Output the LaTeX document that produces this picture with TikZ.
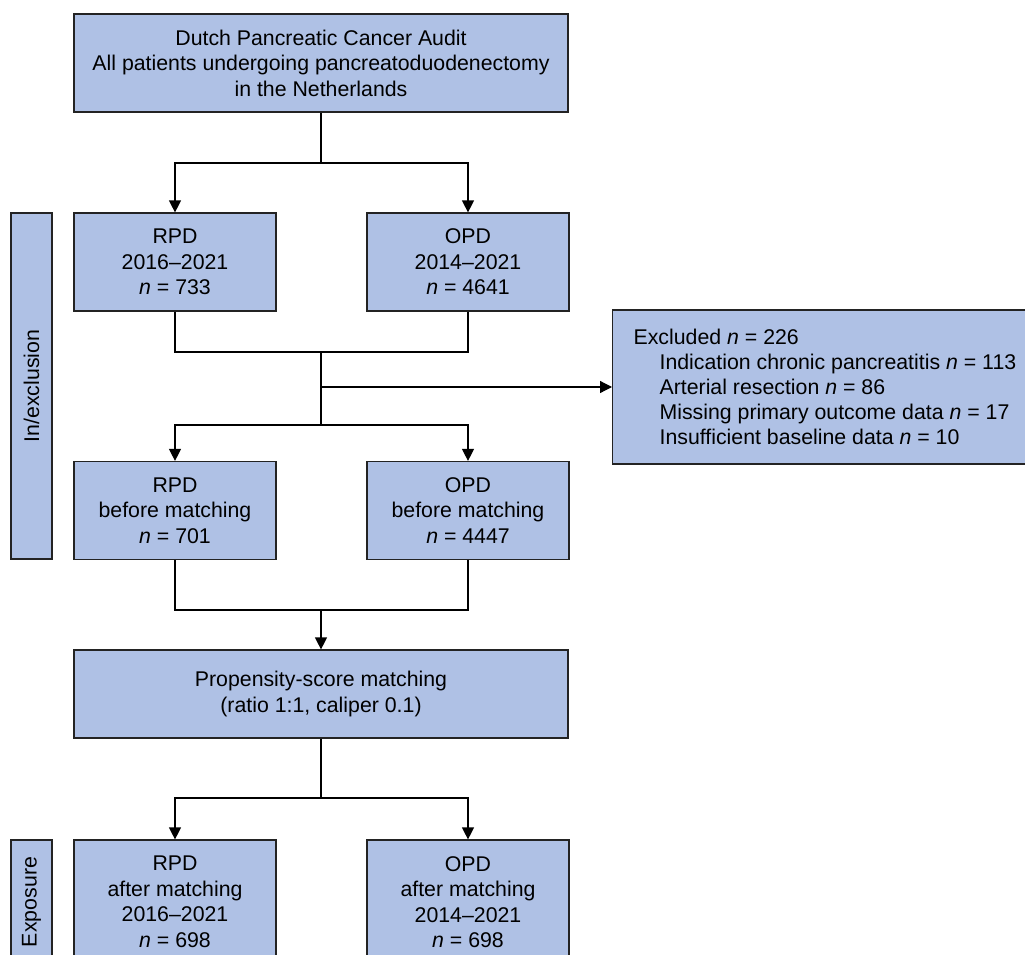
\documentclass[tikz,border=0pt]{standalone}
\usepackage{fontspec}
\setmainfont{Liberation Sans}
\definecolor{boxblue}{RGB}{175,193,229}
\definecolor{edgegray}{RGB}{35,35,35}
\usetikzlibrary{arrows.meta,positioning}

\begin{document}
\begin{tikzpicture}[x=1pt, y=-1pt,
  stage/.style={draw=edgegray, fill=boxblue, line width=1.2pt, minimum width=202, minimum height=98, inner sep=0pt, align=center, font=\fontsize{21.3}{25.5}\selectfont},
  sidebar/.style={draw=edgegray, fill=boxblue, line width=1.2pt, rotate=90, minimum height=41, inner sep=0pt, font=\fontsize{21.3}{25.5}\selectfont},
  flow/.style={line width=1.2pt, draw=black, -{Triangle[length=12pt,width=12pt]}},
  link/.style={line width=1.2pt, draw=black}]
  \useasboundingbox (0,0) rectangle (1025,955);
  \clip (0,0) rectangle (1025,955);

  %--- Source ---
  \node[stage, minimum width=494] (audit) at (321,63) {Dutch Pancreatic Cancer Audit\\All patients undergoing pancreatoduodenectomy\\in the Netherlands};

  %--- In/exclusion ---
  \node[sidebar, minimum width=346] (inexcl) at (31.5,386) {In/exclusion};
  \node[stage] (rpdall) at (175,262) {RPD\\2016--2021\\\textit{n} = 733};
  \node[stage] (opdall) at (468,262) {OPD\\2014--2021\\\textit{n} = 4641};

  \node[draw=edgegray, fill=boxblue, line width=1.2pt, anchor=west, inner xsep=21pt, inner ysep=0pt, minimum height=154, align=left, font=\fontsize{21.3}{25}\selectfont] (excluded) at (612,387) {Excluded \textit{n} = 226\\
    \hspace*{26pt}Indication chronic pancreatitis \textit{n} = 113\\
    \hspace*{26pt}Arterial resection \textit{n} = 86\\
    \hspace*{26pt}Missing primary outcome data \textit{n} = 17\\
    \hspace*{26pt}Insufficient baseline data \textit{n} = 10};

  \node[stage] (rpdbefore) at (175,510.5) {RPD\\before matching\\\textit{n} = 701};
  \node[stage] (opdbefore) at (468,510.5) {OPD\\before matching\\\textit{n} = 4447};

  %--- Matching ---
  \node[stage, minimum width=494, minimum height=88] (psm) at (321,694) {Propensity-score matching\\(ratio 1:1, caliper 0.1)};

  %--- Exposure ---
  \node[sidebar, minimum width=124] (exposure) at (31.5,902) {Exposure};
  \node[stage, minimum height=124] (rpdafter) at (175,902) {RPD\\after matching\\2016--2021\\\textit{n} = 698};
  \node[stage, minimum height=124] (opdafter) at (468,902) {OPD\\after matching\\2014--2021\\\textit{n} = 698};

  % junctions
  \coordinate (split1) at (321,163);
  \coordinate (join1) at (321,352);
  \coordinate (tap) at (321,387);
  \coordinate (split2) at (321,425);
  \coordinate (join2) at (321,610);
  \coordinate (split3) at (321,798);

  % Arrows
  \draw[link] (audit.south) -- (split1);
  \draw[flow] (split1) -| (rpdall.north);
  \draw[flow] (split1) -| (opdall.north);

  \draw[link] (rpdall.south) |- (join1) -| (opdall.south);
  \draw[link] (join1) -- (split2);
  \draw[flow] (tap) -- (excluded.west);
  \draw[flow] (split2) -| (rpdbefore.north);
  \draw[flow] (split2) -| (opdbefore.north);

  \draw[link] (rpdbefore.south) |- (join2) -| (opdbefore.south);
  \draw[flow] (join2) -- (psm.north);

  \draw[link] (psm.south) -- (split3);
  \draw[flow] (split3) -| (rpdafter.north);
  \draw[flow] (split3) -| (opdafter.north);
\end{tikzpicture}
\end{document}
